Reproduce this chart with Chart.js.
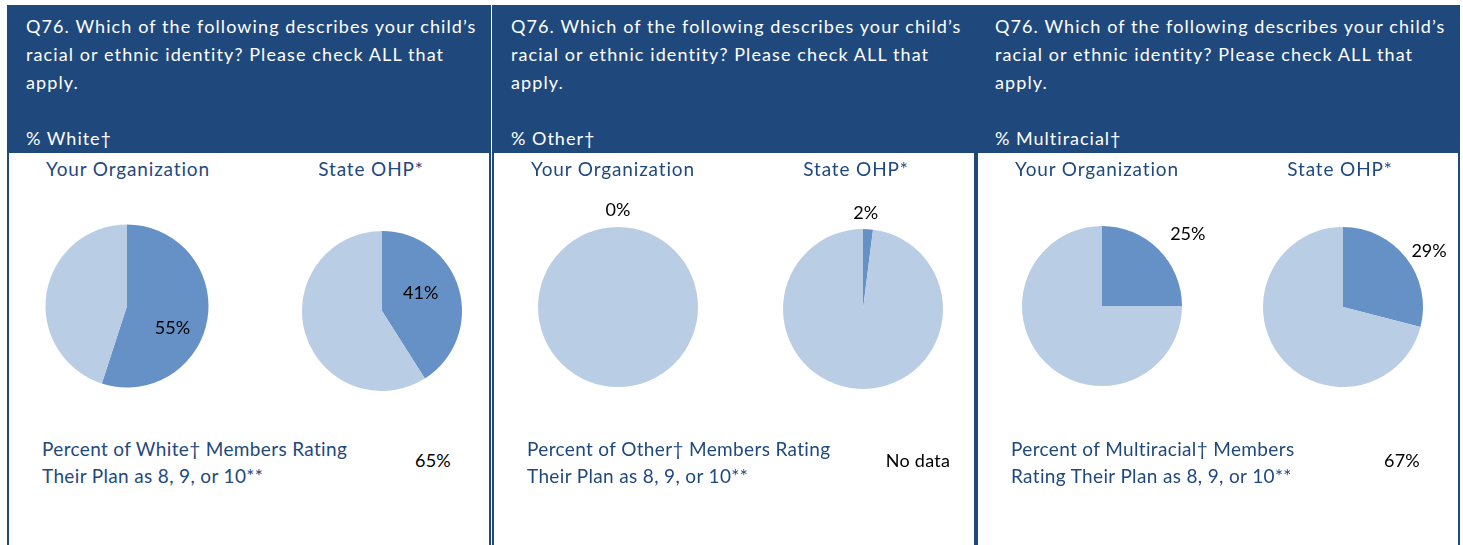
<!DOCTYPE html>
<html>
<head>
<meta charset="utf-8">
<script src="https://cdn.jsdelivr.net/npm/chart.js@4"></script>
<style>
  html, body { margin: 0; padding: 0; background: #fff; }
  body { width: 1463px; height: 545px; position: relative; overflow: hidden; font-family: 'Lato', 'Liberation Sans', sans-serif; }
  .panel { position: absolute; top: 5px; width: 484px; height: 560px; }
  .head { position: absolute; left: 0; top: 0; right: 0; height: 148px; background: #1F497D; color: #fff; }
  .question { position: absolute; left: 19px; top: 7px; width: 462px; font-size: 18px; line-height: 28px; letter-spacing: 1.1px; }
  .measure { position: absolute; left: 19px; top: 122px; font-size: 18px; letter-spacing: 1px; }
  .body { position: absolute; left: 0; top: 148px; right: 0; bottom: 0; border-left: 2px solid #1F497D; border-right: 2px solid #1F497D; box-sizing: border-box; }
  .sub { position: absolute; top: 4px; font-size: 19px; color: #1F497D; letter-spacing: 0.85px; transform: translateX(-50%); white-space: nowrap; }
  .rating { position: absolute; left: 33px; top: 282px; font-size: 19px; line-height: 27px; color: #1F497D; letter-spacing: 0.35px; white-space: nowrap; }
  .rvalue { position: absolute; top: 296px; font-size: 18px; color: #000; transform: translateX(-50%); white-space: nowrap; letter-spacing: 0.3px; }
  canvas { position: absolute; }
</style>
</head>
<body>
<script>
// Survey question and groups
const questionText = "Q76. Which of the following describes your child\u2019s racial or ethnic identity? Please check ALL that apply.";
const groups = ["White", "Other", "Multiracial"];
const pieTitles = ["Your Organization", "State OHP*"];

// % of members in each group: [Your Organization, State OHP*]
const orgValues = [55, 0, 25];
const stateValues = [41, 2, 29];

// % rating plan 8-10 (null = no data)
const ratingValues = [65, null, 67];

// Layout
const panelLeft = [7, 492, 976];
const pieCenterX = [[120, 375], [126, 371], [126, 367]];
const pieCenterY = [[305.5, 310.5], [307, 309], [306, 306.5]];
const pieRadius = [[81.5, 80], [80, 80], [80, 80]];
// value label placement: distance as fraction of radius, angle shift in degrees
const labelDist = [[0.62, 0.53], [1.21, 1.2], [1.4, 1.28]];
const labelShift = [[17, -8], [0, -2], [5, 5]];

const darkBlue = '#6691C6';
const lightBlue = '#B9CDE5';
const CANVAS = 280;

const valueLabels = {
    id: 'valueLabels',
    afterDatasetsDraw(chart, args, opts) {
        const arc = chart.getDatasetMeta(0).data[0];
        const value = chart.data.datasets[0].data[0];
        const mid = (arc.startAngle + arc.endAngle) / 2 + opts.shift * Math.PI / 180;
        const d = opts.dist * arc.outerRadius;
        const ctx = chart.ctx;
        ctx.save();
        ctx.font = "18px 'Lato', 'Liberation Sans', sans-serif";
        ctx.fillStyle = '#000';
        ctx.textAlign = 'center';
        ctx.textBaseline = 'middle';
        ctx.fillText(value + '%', arc.x + Math.cos(mid) * d, arc.y + Math.sin(mid) * d);
        ctx.restore();
    }
};

groups.forEach((g, i) => {
    const panel = document.createElement('div');
    panel.className = 'panel';
    panel.style.left = panelLeft[i] + 'px';
    panel.innerHTML =
        '<div class="head"><div class="question">' + questionText + '</div>' +
        '<div class="measure">% ' + g + '\u2020</div></div>' +
        '<div class="body"></div>';
    document.body.appendChild(panel);
    const body = panel.querySelector('.body');

    pieTitles.forEach((t, j) => {
        const el = document.createElement('div');
        el.className = 'sub';
        el.textContent = t;
        el.style.left = (j === 0 ? 119 : 362) + 'px';
        body.appendChild(el);
    });

    const rating = document.createElement('div');
    rating.className = 'rating';
    rating.innerHTML = g === 'Multiracial'
        ? 'Percent of ' + g + '\u2020 Members<br>Rating Their Plan as 8, 9, or 10**'
        : 'Percent of ' + g + '\u2020 Members Rating<br>Their Plan as 8, 9, or 10**';
    body.appendChild(rating);

    const rv = document.createElement('div');
    rv.className = 'rvalue';
    rv.style.left = '424px';
    rv.textContent = ratingValues[i] === null ? 'No data' : ratingValues[i] + '%';
    body.appendChild(rv);

    [orgValues[i], stateValues[i]].forEach((v, j) => {
        const canvas = document.createElement('canvas');
        canvas.width = CANVAS;
        canvas.height = CANVAS;
        canvas.style.left = (panelLeft[i] + pieCenterX[i][j] - CANVAS / 2) + 'px';
        canvas.style.top = (pieCenterY[i][j] - CANVAS / 2) + 'px';
        document.body.appendChild(canvas);
        const pad = CANVAS / 2 - pieRadius[i][j];
        new Chart(canvas, {
            type: 'pie',
            data: {
                labels: [g, 'Not ' + g],
                datasets: [{
                    data: [v, 100 - v],
                    backgroundColor: [darkBlue, lightBlue],
                    borderWidth: 0
                }]
            },
            options: {
                responsive: false,
                animation: false,
                layout: { padding: pad },
                plugins: {
                    legend: { display: false },
                    tooltip: { enabled: false },
                    valueLabels: { dist: labelDist[i][j], shift: labelShift[i][j] }
                }
            },
            plugins: [valueLabels]
        });
    });
});
</script>
</body>
</html>
